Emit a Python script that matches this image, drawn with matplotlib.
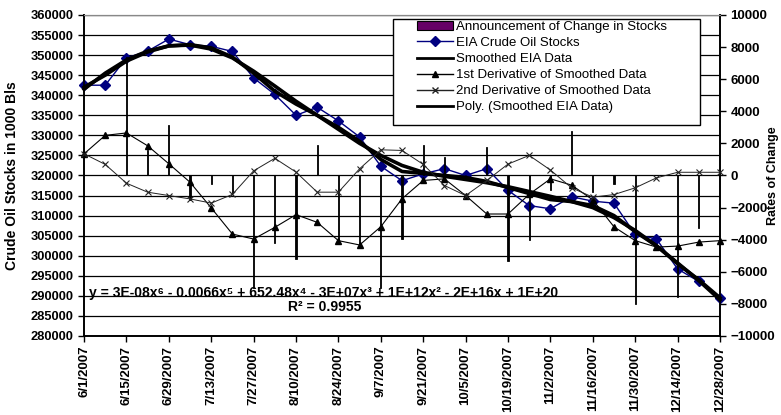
import numpy as np
import matplotlib
matplotlib.use("Agg")
import matplotlib.pyplot as plt
from matplotlib.patches import Patch, Rectangle
from matplotlib.lines import Line2D

plt.rcParams['font.family'] = ['Liberation Sans', 'DejaVu Sans']

# weekly data, 6/1/2007 .. 12/28/2007
tick_labels = ["6/1/2007", "6/15/2007", "6/29/2007", "7/13/2007", "7/27/2007",
               "8/10/2007", "8/24/2007", "9/7/2007", "9/21/2007", "10/5/2007",
               "10/19/2007", "11/2/2007", "11/16/2007", "11/30/2007",
               "12/14/2007", "12/28/2007"]

eia_stocks = [342500, 342500, 349300, 351000, 354000, 352600, 352200, 350900,
              344300, 340200, 335000, 337000, 333600, 329600, 322300, 318700,
              320400, 321700, 320000, 321700, 316300, 312500, 311700, 314700,
              313600, 313100, 305300, 304200, 296700, 293600, 289400]

smoothed = [342000, 345000, 348500, 350800, 352300, 352600, 351800, 349500,
            345500, 341000, 337800, 335000, 332000, 328500, 324000, 321000,
            320500, 320000, 319500, 318500, 317000, 315500, 314000, 313500,
            312500, 310000, 306000, 302500, 298000, 294000, 289500]

poly_fit = [341500, 345500, 348800, 351000, 352300, 352500, 351500, 349300,
            346000, 342300, 338500, 335000, 331500, 328000, 325000, 322500,
            320800, 319800, 319000, 318200, 317200, 316000, 314800, 313500,
            312000, 309500, 306300, 302500, 298200, 293800, 289000]

first_deriv = [1350, 2500, 2650, 1850, 730, -420, -2020, -3650, -3960, -3230,
               -2440, -2920, -4060, -4330, -3190, -1450, -310, -210, -1250,
               -2400, -2400, -1170, -210, -600, -1520, -3200, -4060, -4460,
               -4400, -4150, -4060]

second_deriv = [1350, 690, -480, -1040, -1250, -1460, -1720, -1180, 290, 1070,
                210, -1040, -1040, 420, 1600, 1560, 690, -625, -1250, -310,
                710, 1250, 340, -770, -1350, -1190, -770, -150, 200, 200, 200]

announcements = [0, 0, 7400, 1560, 3125, -1520, -500, -1100, -7000, -4200,
                 -5200, 1875, -4100, -4400, -7000, -3960, 1875, 1150, 0, 1800,
                 -5300, -4000, -900, 2800, -1000, -520, -8000, 0, -7600, -3300, 0]

weeks = np.arange(len(eia_stocks))

fig = plt.figure(figsize=(7.81, 4.15), dpi=100)
ax = fig.add_axes([0.1076, 0.1904, 0.8143, 0.7735])
ax2 = ax.twinx()

# left axis: stocks
ax.set_ylim(280000, 360000)
ax.set_yticks(np.arange(280000, 360001, 5000))
ax.yaxis.grid(True, color='black', linewidth=0.9)
ax.set_axisbelow(True)
ax.plot(weeks, eia_stocks, color='#000080', lw=1, marker='D', ms=5,
        clip_on=False, zorder=3)
ax.plot(weeks, smoothed, color='black', lw=2.6, clip_on=False, zorder=4)
ax.plot(weeks, poly_fit, color='black', lw=2.6, clip_on=False, zorder=4)

# right axis: rates of change
ax2.set_ylim(-10000, 10000)
ax2.set_yticks(np.arange(-10000, 10001, 2000))
ax2.bar(weeks, announcements, width=0.06, color='black', edgecolor='black',
        linewidth=0.6, zorder=2)
ax2.plot(weeks, first_deriv, color='black', lw=0.8, marker='^', ms=4.5,
         clip_on=False, zorder=3)
ax2.plot(weeks, second_deriv, color='#222222', lw=0.7, marker='x', ms=4.5,
         mew=0.8, clip_on=False, zorder=3)

ax.set_xlim(0, 30)
ax.set_xticks(weeks[::2])
ax.set_xticklabels(tick_labels, rotation=90, fontsize=9.5, fontweight='bold')
ax.tick_params(axis='x', length=4, width=1, pad=3)
ax.tick_params(axis='y', length=4, width=1, labelsize=9.3)
ax2.tick_params(axis='y', length=4, width=1, labelsize=9.5)
for lab in ax.get_yticklabels() + ax2.get_yticklabels():
    lab.set_fontweight('bold')

for a in (ax, ax2):
    a.spines['top'].set_color('#888888')
    a.spines['left'].set_linewidth(1.2)
    a.spines['right'].set_linewidth(1.2)
    a.spines['bottom'].set_linewidth(1.2)

ax.set_ylabel('Crude Oil Stocks in 1000 Bls', fontsize=10, fontweight='bold')
ax.yaxis.set_label_coords(-0.102, 0.5)
ax2.set_ylabel('Rates of Change', fontsize=9, fontweight='bold')
ax2.yaxis.set_label_coords(1.074, 0.5)

ax.text(0.008, 0.134,
        'y = 3E-08x\u2076 - 0.0066x\u2075 + 652.48x\u2074 - 3E+07x\u00b3 + 1E+12x\u00b2 - 2E+16x + 1E+20',
        transform=ax.transAxes, fontsize=10, fontweight='bold', va='center', ha='left')
ax.text(0.379, 0.09, 'R\u00b2 = 0.9955', transform=ax.transAxes, fontsize=10,
        fontweight='bold', va='center', ha='center')

# legend box with wide side margins, like the original
ax2.add_patch(Rectangle((0.486, 0.657), 0.4826, 0.3305, transform=ax2.transAxes,
                        facecolor='white', edgecolor='black', lw=1, zorder=9,
                        clip_on=False))
handles = [Patch(facecolor='#660066', edgecolor='black', linewidth=0.8),
           Line2D([], [], color='#000080', lw=1, marker='D', ms=5),
           Line2D([], [], color='black', lw=2),
           Line2D([], [], color='black', lw=1, marker='^', ms=4.5),
           Line2D([], [], color='#222222', lw=1, marker='x', ms=4.5),
           Line2D([], [], color='black', lw=2)]
labels = ['Announcement of Change in Stocks', 'EIA Crude Oil Stocks',
          'Smoothed EIA Data', '1st Derivative of Smoothed Data',
          '2nd Derivative of Smoothed Data', 'Poly. (Smoothed EIA Data)']
leg = ax2.legend(handles, labels, loc='upper left', bbox_to_anchor=(0.524, 0.982),
                 fontsize=9.5, frameon=False, borderpad=0, labelspacing=0.29,
                 handlelength=2.7, handletextpad=0.2, borderaxespad=0)
leg.set_zorder(10)

fig.savefig('out.png', dpi=100)
